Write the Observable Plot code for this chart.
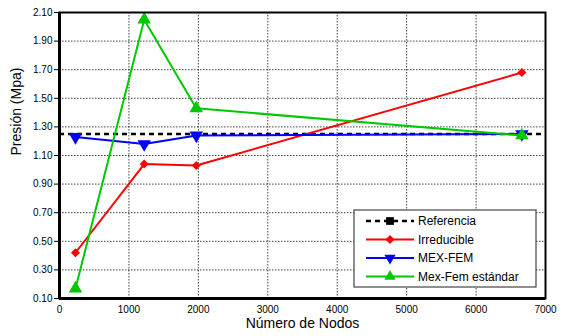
<!DOCTYPE html>
<html>
<head>
<meta charset="utf-8">
<script src="https://cdn.jsdelivr.net/npm/d3@7"></script>
<script src="https://cdn.jsdelivr.net/npm/@observablehq/plot@0.6"></script>
<style>
  body { margin: 0; background: #fff; }
  #chart svg { font-family: "Liberation Sans", Arial, sans-serif; }
</style>
</head>
<body>
<div id="chart"></div>
<script>
// Data
const nodos = [230, 1220, 1970, 6660];
const irreducible = [0.42, 1.04, 1.03, 1.68];
const mexFem = [1.23, 1.18, 1.24, 1.25];
const mexFemEstandar = [0.17, 2.05, 1.43, 1.24];
const referencia = 1.25;
const yTicks = [0.10, 0.30, 0.50, 0.70, 0.90, 1.10, 1.30, 1.50, 1.70, 1.90, 2.10];
const xTicks = [0, 1000, 2000, 3000, 4000, 5000, 6000, 7000];
const legendLabels = ["Referencia", "Irreducible", "MEX-FEM", "Mex-Fem estándar"];
const legendColors = ["#000000", "#ff0000", "#0000ff", "#00c800"];

const series = [
  {name: "Irreducible", values: irreducible, color: "#ff0000", symbol: "square", rotate: 45, r: 3.6},
  {name: "MEX-FEM", values: mexFem, color: "#0000ff", symbol: "triangle", rotate: 180, r: 5},
  {name: "Mex-Fem estándar", values: mexFemEstandar, color: "#00c800", symbol: "triangle", rotate: 0, r: 5}
];
const rows = series.flatMap(s => s.values.map((v, i) => ({x: nodos[i], y: v, s: s.name})));

const marks = [
  Plot.gridX(xTicks, {stroke: "#000", strokeOpacity: 0.75, strokeDasharray: "1.5,1.5", strokeWidth: 1}),
  Plot.gridY(yTicks, {stroke: "#000", strokeOpacity: 0.75, strokeDasharray: "1.5,1.5", strokeWidth: 1}),
  Plot.ruleY([referencia], {stroke: "#000", strokeWidth: 2.5, strokeDasharray: "5,4"})
];
for (const s of series) {
  const d = rows.filter(r => r.s === s.name);
  marks.push(Plot.line(d, {x: "x", y: "y", stroke: s.color, strokeWidth: 2}));
  marks.push(Plot.dot(d, {x: "x", y: "y", fill: s.color, stroke: "none", symbol: () => s.symbol, r: s.r, rotate: s.rotate}));
}
marks.push(
  Plot.frame({stroke: "#000", strokeWidth: 2}),
  Plot.ruleY([0.10], {stroke: "#000", strokeWidth: 3}),
  Plot.ruleX([0], {stroke: "#000", strokeWidth: 3}),
  Plot.axisY({ticks: yTicks, tickFormat: d3.format(".2f"), tickSize: 5, tickPadding: 2, fontSize: 10, label: null}),
  Plot.axisX({ticks: xTicks, tickFormat: d => String(d), tickSize: 0, tickPadding: 7, fontSize: 10, label: null}),
  Plot.text(["Número de Nodos"], {frameAnchor: "bottom", dy: 29, fontSize: 14, fill: "#000"}),
  Plot.text(["Presión (Mpa)"], {frameAnchor: "left", rotate: -90, dx: -43, fontSize: 14, fill: "#000"})
);

const chart = Plot.plot({
  width: 564,
  height: 336,
  marginLeft: 59,
  marginRight: 19,
  marginTop: 12,
  marginBottom: 38,
  x: {domain: [0, 7000]},
  y: {domain: [0.10, 2.10]},
  symbol: {type: "identity"},
  marks
});
document.getElementById("chart").append(chart);

// Legend inside plot area
const svg = d3.select(chart);
const lg = svg.append("g").attr("transform", "translate(354,210)");
lg.append("rect").attr("width", 182).attr("height", 77).attr("fill", "#fff").attr("stroke", "#444").attr("stroke-width", 1.2);
const sym = [d3.symbolSquare, d3.symbolSquare, d3.symbolTriangle, d3.symbolTriangle];
const rot = [0, 45, 180, 0];
const size = [60, 40, 55, 55];
legendLabels.forEach((lab, i) => {
  const y = 11 + i * 18.5;
  const c = legendColors[i];
  lg.append("line").attr("x1", 12).attr("x2", 60).attr("y1", y).attr("y2", y)
    .attr("stroke", c).attr("stroke-width", i === 0 ? 2.5 : 2)
    .attr("stroke-dasharray", i === 0 ? "5,4" : null);
  lg.append("path").attr("d", d3.symbol(sym[i], size[i])())
    .attr("transform", `translate(36,${y}) rotate(${rot[i]})`).attr("fill", c);
  lg.append("text").attr("x", 64).attr("y", y).attr("dy", "0.35em")
    .attr("text-anchor", "start")
    .attr("font-size", 12).attr("fill", "#000").text(lab);
});
</script>
</body>
</html>
